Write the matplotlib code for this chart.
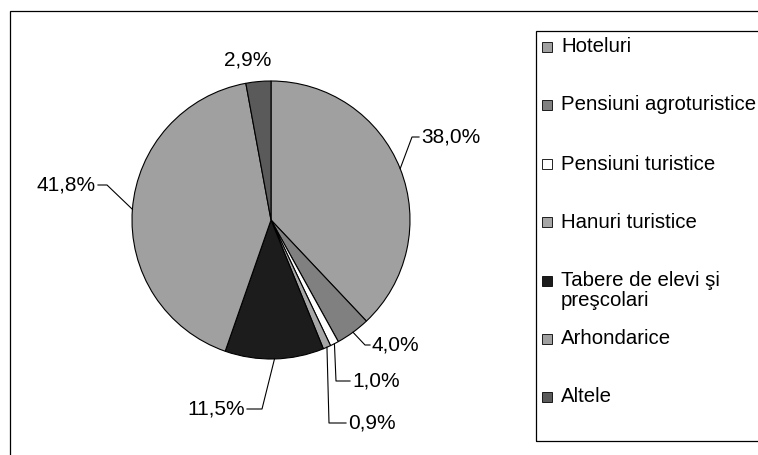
import numpy as np
import matplotlib
matplotlib.use("Agg")
import matplotlib.pyplot as plt
from matplotlib.patches import Rectangle

categories = [
    'Hoteluri',
    'Pensiuni agroturistice',
    'Pensiuni turistice',
    'Hanuri turistice',
    'Tabere de elevi şi\npreşcolari',
    'Arhondarice',
    'Altele',
]
shares = [38.0, 4.0, 1.0, 0.9, 11.5, 41.8, 2.9]
labels = ['38,0%', '4,0%', '1,0%', '0,9%', '11,5%', '41,8%', '2,9%']
colors = ['#A0A0A0', '#808080', '#FFFFFF', '#A6A6A6', '#1C1C1C', '#A0A0A0', '#5A5A5A']

W, H = 758, 455
plt.rcParams['font.family'] = ['Liberation Sans', 'DejaVu Sans']
FS = 15       # data labels
FS_LEG = 14.7  # legend, so the longest entry still fits inside the figure

fig = plt.figure(figsize=(W / 100, H / 100), dpi=100)
ax = fig.add_axes([0, 0, 1, 1])

cx, cy, r = 271, H - 220, 139
wedges, _ = ax.pie(shares, colors=colors, startangle=90, counterclock=False,
                   center=(cx, cy), radius=r,
                   wedgeprops=dict(edgecolor='black', linewidth=0.8))
ax.set_xlim(0, W)
ax.set_ylim(0, H)
ax.axis('off')

# label layout (pixels from top-left): text x, text y, ha, elbow point or None
label_pos = [
    (421, 137, 'left', (412, 137)),
    (372, 345, 'left', (365, 345)),
    (352, 381, 'left', (336, 381)),
    (348, 423, 'left', (329, 423)),
    (245, 409, 'right', (262, 409)),
    (96, 185, 'right', (107, 185)),
    (248, 60, 'center', None),
]
for w, lab, (tx, ty, ha, elbow) in zip(wedges, labels, label_pos):
    mid = np.deg2rad((w.theta1 + w.theta2) / 2)
    ax_, ay_ = cx + r * np.cos(mid), cy + r * np.sin(mid)
    ax.text(tx, H - ty, lab, ha=ha, va='center', fontsize=FS)
    if elbow is not None:
        ex, ey = elbow
        endx = tx - 2 if ha == 'left' else tx + 2
        ax.plot([ax_, ex, endx], [ay_, H - ey, H - ey], color='black', lw=0.8)

# outer chart frame and legend box
ax.add_patch(Rectangle((9.5, -5), W + 10, H - 10 + 5 - 0.5, fill=False,
                       edgecolor='black', lw=0.9))
ax.add_patch(Rectangle((535.5, H - 441), W, 441 - 31, fill=False,
                       edgecolor='black', lw=0.9))

# legend entries
ys = [47, 105, 164, 222, 281, 339, 397]
for cat, col, y in zip(categories, colors, ys):
    ax.add_patch(Rectangle((542, H - y - 5), 10, 10, facecolor=col,
                           edgecolor='black', lw=0.6))
    ax.text(561, H - y, cat.split('\n')[0], ha='left', va='center',
            fontsize=FS_LEG)
    if '\n' in cat:
        ax.text(561, H - y - 20, cat.split('\n')[1], ha='left', va='center',
                fontsize=FS_LEG)

fig.savefig('out.png', dpi=100)
